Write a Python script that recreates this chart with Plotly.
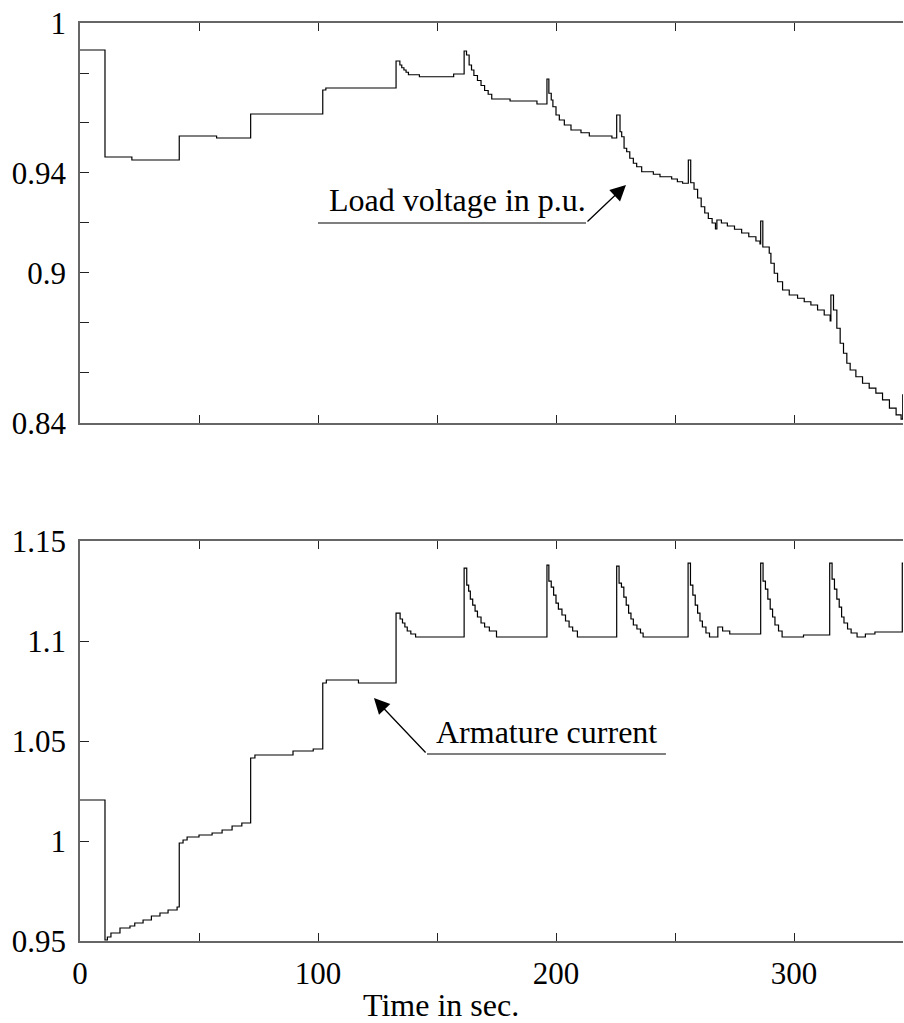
import plotly.graph_objects as go
from plotly.subplots import make_subplots

# ---- Load voltage (p.u.) : step series ----
volt_t = [0, 10.5, 21.8, 41.7, 57.4, 71.7, 102.0, 103.3,
          132.8, 134.4, 135.2, 136.1, 137.0, 138.0, 142.6,
          157.0, 161.4, 162.4, 163.5, 164.5, 165.5, 167.0, 168.5, 170.0, 171.5, 173.0,
          180.7, 192.0,
          196.2, 197.0, 198.0, 198.7, 200.0, 201.4, 203.5, 206.3, 210.5, 214.0,
          223.5, 225.5, 226.9, 227.6, 228.6, 229.7, 231.0, 232.5, 233.9, 236.0, 240.9, 243.7, 248.6, 251.0, 253.2,
          255.6, 256.6, 258.0, 259.5, 261.0, 262.5, 264.0, 265.6, 267.0, 267.6, 269.5, 272.0, 275.0, 278.0, 281.0, 284.0, 285.7,
          286.0, 286.9, 289.6, 290.3, 291.7, 293.1, 295.2, 298.0, 301.5, 304.3, 307.1, 309.9, 312.7, 315.2,
          315.5, 316.6, 318.0, 319.4, 320.8, 322.2, 323.6, 326.0, 328.8, 331.6, 334.4, 337.2, 340.1, 342.9, 345.0,
          345.7, 346.5]
volt_v = [0.9892, 0.9464, 0.9452, 0.9548, 0.9540, 0.9636, 0.9732, 0.9740,
          0.9848, 0.9832, 0.9821, 0.9812, 0.9803, 0.9793, 0.9785,
          0.9796, 0.9888, 0.9872, 0.9832, 0.9812, 0.9790, 0.9770, 0.9750, 0.9730, 0.9715, 0.9696,
          0.9688, 0.9676,
          0.9776, 0.9719, 0.9692, 0.9665, 0.9632, 0.9612, 0.9592, 0.9572, 0.9561, 0.9548,
          0.9540, 0.9632, 0.9565, 0.9545, 0.9499, 0.9485, 0.9459, 0.9439, 0.9425, 0.9405, 0.9395, 0.9385, 0.9376, 0.9365, 0.9359,
          0.9452, 0.9361, 0.9335, 0.9300, 0.9265, 0.9240, 0.9218, 0.9200, 0.9176, 0.9212, 0.9200, 0.9188, 0.9175, 0.9160, 0.9145, 0.9128, 0.9116,
          0.9208, 0.9104, 0.9079, 0.9039, 0.8999, 0.8965, 0.8932, 0.8912, 0.8899, 0.8885, 0.8872, 0.8852, 0.8832, 0.8808,
          0.8912, 0.8852, 0.8779, 0.8719, 0.8679, 0.8639, 0.8612, 0.8585, 0.8559, 0.8539, 0.8519, 0.8492, 0.8459, 0.8432, 0.8415,
          0.8512, 0.8512]

# ---- Armature current : step series ----
curr_t = [0, 10.5, 11.5, 13.0, 16.8, 21.0, 23.0, 26.5, 30.0, 33.6, 37.0, 40.8,
          41.7, 43.3, 45.0, 50.0, 55.5, 59.7, 63.9, 68.0,
          71.7, 73.5, 89.5, 98.0,
          102.0, 103.5, 117.0,
          132.8, 134.5, 135.5, 136.5, 137.5, 139.0, 141.0,
          161.4, 162.5, 163.3, 164.0, 165.0, 166.0, 167.0, 168.5, 170.0, 172.0, 175.0,
          196.2, 197.0, 198.0, 199.0, 200.0, 201.0, 202.5, 204.0, 205.5, 207.0, 209.0,
          225.5, 226.5, 227.5, 228.5, 229.5, 230.5, 231.5, 232.5, 234.0, 235.5, 236.6,
          255.5, 256.5, 257.5, 258.5, 259.5, 260.5, 261.5, 263.0, 264.5, 268.0, 270.0, 273.0,
          286.0, 287.0, 288.0, 289.0, 290.0, 291.0, 292.0, 293.5, 295.0, 304.0,
          315.0, 316.0, 317.0, 318.0, 319.0, 320.0, 321.0, 322.5, 324.0, 326.5, 330.0, 334.0,
          345.5, 346.5]
curr_v = [1.0205, 0.9505, 0.9520, 0.9540, 0.9565, 0.9575, 0.9590, 0.9605, 0.9625, 0.9640, 0.9655, 0.9670,
          0.9990, 1.0005, 1.0020, 1.0030, 1.0040, 1.0055, 1.0075, 1.0090,
          1.0415, 1.0430, 1.0450, 1.0460,
          1.0790, 1.0805, 1.0790,
          1.1140, 1.1110, 1.1090, 1.1070, 1.1050, 1.1035, 1.1020,
          1.1365, 1.1280, 1.1250, 1.1210, 1.1180, 1.1150, 1.1120, 1.1090, 1.1070, 1.1050, 1.1020,
          1.1380, 1.1300, 1.1270, 1.1230, 1.1190, 1.1160, 1.1130, 1.1100, 1.1070, 1.1050, 1.1020,
          1.1375, 1.1290, 1.1270, 1.1220, 1.1180, 1.1140, 1.1110, 1.1080, 1.1060, 1.1040, 1.1020,
          1.1390, 1.1280, 1.1230, 1.1180, 1.1140, 1.1100, 1.1070, 1.1040, 1.1020, 1.1070, 1.1050, 1.1035,
          1.1390, 1.1300, 1.1260, 1.1210, 1.1160, 1.1120, 1.1080, 1.1050, 1.1020, 1.1030,
          1.1390, 1.1310, 1.1260, 1.1210, 1.1170, 1.1120, 1.1090, 1.1060, 1.1040, 1.1020, 1.1035, 1.1045,
          1.1390, 1.1390]

# ---- Axis ticks ----
x_tickvals = [0, 50, 100, 150, 200, 250, 300]
x_ticktext = ["0", "", "100", "", "200", "", "300"]
v_tickvals = [0.84, 0.86, 0.88, 0.90, 0.92, 0.94, 0.96, 0.98, 1.00]
v_ticktext = ["0.84", "", "", "0.9", "", "0.94", "", "", "1"]
c_tickvals = [0.95, 1.00, 1.05, 1.10, 1.15]
c_ticktext = ["0.95", "1", "1.05", "1.1", "1.15"]

FONT = "Liberation Serif"
AXC = "#666666"

fig = make_subplots(rows=2, cols=1, vertical_spacing=0.1285)
fig.add_trace(go.Scatter(x=volt_t, y=volt_v, mode="lines", line=dict(shape="hv", color="black", width=1.2),
                         showlegend=False, hoverinfo="skip"), row=1, col=1)
fig.add_trace(go.Scatter(x=curr_t, y=curr_v, mode="lines", line=dict(shape="hv", color="black", width=1.2),
                         showlegend=False, hoverinfo="skip"), row=2, col=1)

xcommon = dict(range=[0, 345.8], tickvals=x_tickvals, ticktext=x_ticktext, ticks="inside", ticklen=8,
               tickcolor="#222", showline=True, linecolor=AXC, linewidth=1.5, mirror="ticks",
               showgrid=False, zeroline=False, automargin=False,
               tickfont=dict(family=FONT, size=31, color="black"))
fig.update_xaxes(**xcommon)
fig.update_xaxes(showticklabels=False, row=1, col=1)
fig.update_xaxes(ticklabelstandoff=4, row=2, col=1)

ycommon = dict(ticks="inside", ticklen=9, tickcolor="#222", showline=True, linecolor=AXC, linewidth=1.5,
               mirror=False, showgrid=False, zeroline=False, automargin=False,
               tickfont=dict(family=FONT, size=31, color="black"), ticklabelstandoff=6)
fig.update_yaxes(range=[0.84, 1.0], tickvals=v_tickvals, ticktext=v_ticktext, row=1, col=1, **ycommon)
fig.update_yaxes(range=[0.95, 1.15], tickvals=c_tickvals, ticktext=c_ticktext, row=2, col=1, **ycommon)

fig.update_layout(
    width=904, height=1023,
    margin=dict(l=80, r=1, t=23, b=82),
    paper_bgcolor="white", plot_bgcolor="white",
    font=dict(family=FONT, size=31, color="black"),
)
fig.update_layout(xaxis=dict(domain=[0, 1]), xaxis2=dict(domain=[0, 1]),
                  yaxis=dict(domain=[0.5643, 1.0]), yaxis2=dict(domain=[0.0, 0.4357]))

# ---- Annotations: load voltage ----
fig.add_shape(type="line", xref="x", yref="y", x0=100.0, x1=212.6, y0=0.920, y1=0.920,
              line=dict(color="black", width=1.2))
fig.add_annotation(xref="x", yref="y", x=229.4, y=0.9352, ax=212.6, ay=0.920, axref="x", ayref="y",
                   text="", showarrow=True, arrowhead=2, arrowsize=2.4, arrowwidth=1.3, arrowcolor="black",
                   standoff=0, startstandoff=0)
fig.add_annotation(xref="x", yref="y", x=158.8, y=0.9292, text="Load voltage in p.u.", showarrow=False,
                   font=dict(family=FONT, size=32, color="black"), xanchor="center", yanchor="middle")

# ---- Annotations: armature current ----
fig.add_shape(type="line", xref="x2", yref="y2", x0=145.8, x1=246.2, y0=1.0435, y1=1.0435,
              line=dict(color="black", width=1.2))
fig.add_annotation(xref="x2", yref="y2", x=123.5, y=1.0715, ax=145.8, ay=1.0435, axref="x2", ayref="y2",
                   text="", showarrow=True, arrowhead=2, arrowsize=2.4, arrowwidth=1.3, arrowcolor="black",
                   standoff=0, startstandoff=0)
fig.add_annotation(xref="x2", yref="y2", x=195.8, y=1.0545, text="Armature current", showarrow=False,
                   font=dict(family=FONT, size=32, color="black"), xanchor="center", yanchor="middle")

# ---- x-axis title ----
fig.add_annotation(xref="paper", yref="paper", x=(441 - 80) / 823, y=-0.070, text="Time in sec.",
                   showarrow=False, font=dict(family=FONT, size=32, color="black"),
                   xanchor="center", yanchor="middle")

fig.write_html("out.html", config={"displayModeBar": False},
               post_script="document.body.style.margin='0';document.body.style.overflow='hidden';"
                           "document.documentElement.style.overflow='hidden';")
